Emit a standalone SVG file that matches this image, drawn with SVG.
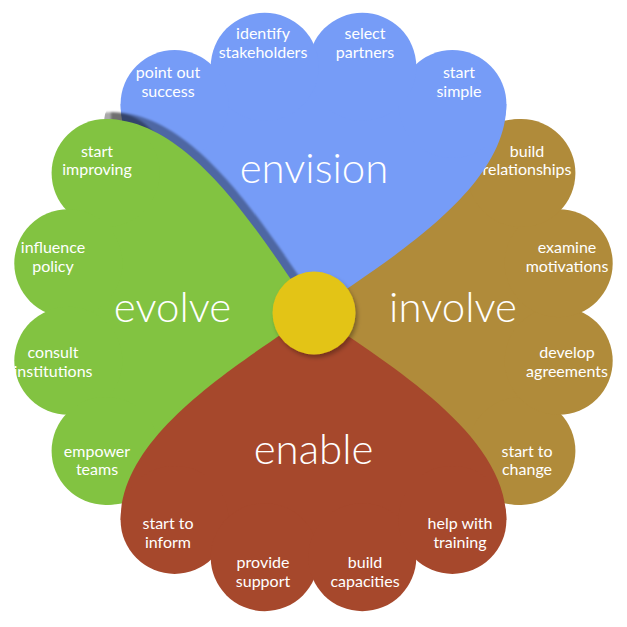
<svg xmlns="http://www.w3.org/2000/svg" xmlns:xlink="http://www.w3.org/1999/xlink" width="627" height="627" viewBox="0 0 627 627">
<style>
.lbl{font-family:Lato,"Liberation Sans",sans-serif;font-size:16px;fill:#fff;text-anchor:middle}
.big{font-family:Lato,"Liberation Sans",sans-serif;font-weight:300;font-size:42px;fill:#fff;text-anchor:middle}
</style>
<defs>
<g id="petal">
<path d="M0,0 C70,-50 192.9,-120 192.9,-207.9 L138.9,-207.9 L48.8,-245.2 L-48.8,-245.2 L-138.9,-207.9 L-192.9,-207.9 C-192.9,-120 -70,-50 0,0 Z"/>
<circle cx="138.9" cy="-207.9" r="54"/>
<circle cx="48.8" cy="-245.2" r="54"/>
<circle cx="-48.8" cy="-245.2" r="54"/>
<circle cx="-138.9" cy="-207.9" r="54"/>
</g>
<clipPath id="shclip">
<path d="M104,124 Q104,100 125,100 L336,100 L336,310 L104,310 Z"/>
</clipPath>
<filter id="blur" x="-10%" y="-10%" width="120%" height="120%">
<feGaussianBlur stdDeviation="1.2"/>
</filter>
<filter id="sh2" x="-30%" y="-30%" width="160%" height="160%">
<feDropShadow dx="2" dy="3" stdDeviation="2" flood-color="#000" flood-opacity="0.3"/>
</filter>
</defs>
<rect width="627" height="627" fill="#fff"/>
<g id="involve">
<use href="#petal" transform="translate(313.5,312) rotate(90)" fill="#b08b3a"/>
<text class="big" x="453" y="322">involve</text>
<text class="lbl" x="527" y="157">build</text><text class="lbl" x="527" y="175">relationships</text>
<text class="lbl" x="567" y="253">examine</text><text class="lbl" x="567" y="272">motivations</text>
<text class="lbl" x="567" y="358">develop</text><text class="lbl" x="567" y="377">agreements</text>
<text class="lbl" x="527" y="457">start to</text><text class="lbl" x="527" y="475">change</text>
</g>
<g id="envision">
<use href="#petal" transform="translate(313.5,312)" fill="#769cf7"/>
<text class="big" x="314" y="183">envision</text>
<text class="lbl" x="168" y="78">point out</text><text class="lbl" x="168" y="97">success</text>
<text class="lbl" x="263" y="39">identify</text><text class="lbl" x="263" y="58">stakeholders</text>
<text class="lbl" x="365" y="39">select</text><text class="lbl" x="365" y="58">partners</text>
<text class="lbl" x="459" y="78">start</text><text class="lbl" x="459" y="97">simple</text>
</g>
<g id="evolve">
<g clip-path="url(#shclip)">
<use href="#petal" transform="translate(319,305) rotate(-90)" fill="#000" fill-opacity="0.34" filter="url(#blur)"/>
</g>
<use href="#petal" transform="translate(313.5,312) rotate(-90)" fill="#82c341"/>
<text class="big" x="172.5" y="322">evolve</text>
<text class="lbl" x="97" y="157">start</text><text class="lbl" x="97" y="175">improving</text>
<text class="lbl" x="53" y="253">influence</text><text class="lbl" x="53" y="272">policy</text>
<text class="lbl" x="53" y="358">consult</text><text class="lbl" x="53" y="377">institutions</text>
<text class="lbl" x="97" y="457">empower</text><text class="lbl" x="97" y="475">teams</text>
</g>
<g id="enable">
<use href="#petal" transform="translate(313.5,312) rotate(180)" fill="#a6482c"/>
<text class="big" x="313.5" y="464">enable</text>
<text class="lbl" x="168" y="529">start to</text><text class="lbl" x="168" y="548">inform</text>
<text class="lbl" x="263" y="568">provide</text><text class="lbl" x="263" y="587">support</text>
<text class="lbl" x="365" y="568">build</text><text class="lbl" x="365" y="587">capacities</text>
<text class="lbl" x="460" y="529">help with</text><text class="lbl" x="460" y="548">training</text>
</g>
<g id="center">
<circle cx="314" cy="313" r="41.5" fill="#e3c414" filter="url(#sh2)"/>
</g>
<g id="connectors"/>
</svg>
